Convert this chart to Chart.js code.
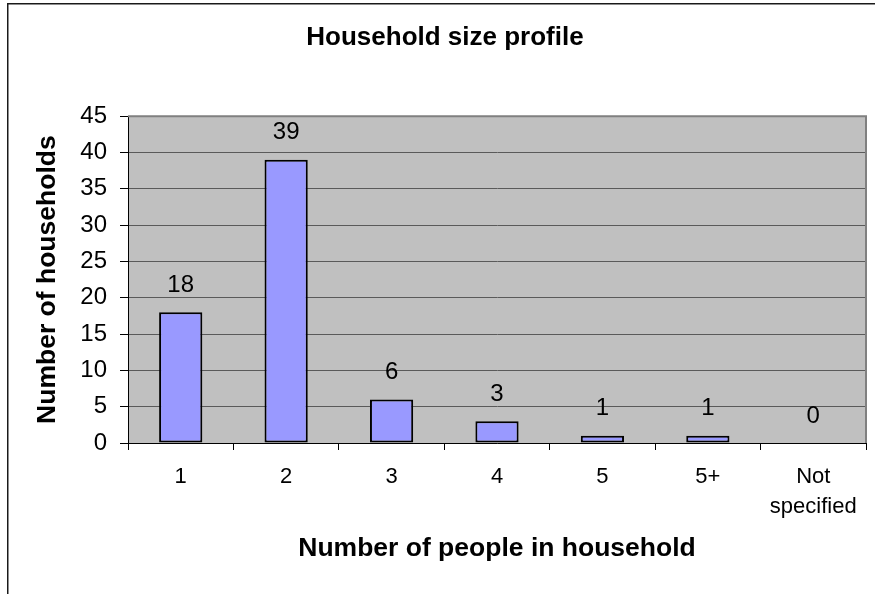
<!DOCTYPE html>
<html>
<head>
<meta charset="utf-8">
<script src="https://cdn.jsdelivr.net/npm/chart.js@4.4.1/dist/chart.umd.min.js"></script>
<style>
  html, body { margin: 0; padding: 0; background: #fff; }
  #wrap { width: 875px; height: 594px; position: relative; }
</style>
</head>
<body>
<div id="wrap"><canvas id="chart"></canvas></div>
<script>
const categories = ['1', '2', '3', '4', '5', '5+', ['Not', 'specified']];
const households = [18, 39, 6, 3, 1, 1, 0];
const yTickMax = 45;
const yTickStep = 5;

const FONT = "'Liberation Sans', Arial, sans-serif";

// grey plot area, plot frame and the outer chart border
const framePlugin = {
  id: 'excelFrame',
  beforeDraw(chart) {
    const { ctx, chartArea: a } = chart;
    ctx.save();
    ctx.fillStyle = '#c0c0c0';
    ctx.fillRect(a.left, a.top, a.right - a.left, a.bottom - a.top);
    ctx.restore();
  },
  afterDraw(chart) {
    const { ctx, chartArea: a } = chart;
    ctx.save();
    ctx.strokeStyle = '#808080';
    ctx.lineWidth = 2;
    ctx.beginPath();
    ctx.moveTo(a.left, a.top);
    ctx.lineTo(a.right, a.top);
    ctx.lineTo(a.right, a.bottom);
    ctx.stroke();
    ctx.strokeStyle = '#1a1a1a';
    ctx.lineWidth = 1.5;
    ctx.strokeRect(7.75, 3.75, 1000, 1000);
    ctx.restore();
  },
};

// value above each bar
const valueLabels = {
  id: 'valueLabels',
  afterDatasetsDraw(chart) {
    const { ctx } = chart;
    const meta = chart.getDatasetMeta(0);
    ctx.save();
    ctx.fillStyle = '#000';
    ctx.font = `24px ${FONT}`;
    ctx.textAlign = 'center';
    ctx.textBaseline = 'middle';
    meta.data.forEach((bar, i) => {
      ctx.fillText(String(households[i]), bar.x, bar.y - 27);
    });
    ctx.restore();
  },
};

new Chart(document.getElementById('chart'), {
  type: 'bar',
  data: {
    labels: categories,
    datasets: [{
      data: households,
      backgroundColor: '#9999ff',
      borderColor: '#000',
      borderWidth: 2,
      borderSkipped: false,
      barPercentage: 0.41,
      categoryPercentage: 1,
    }],
  },
  options: {
    responsive: true,
    maintainAspectRatio: false,
    animation: false,
    layout: { padding: { left: 24, right: 9, top: 0, bottom: 0 } },
    plugins: {
      legend: { display: false },
      tooltip: { enabled: false },
      title: {
        display: true,
        text: 'Household size profile',
        color: '#000',
        font: { family: FONT, size: 26, weight: 'bold', lineHeight: 1.2 },
        padding: { top: 22, bottom: 63 },
      },
    },
    scales: {
      x: {
        grid: { offset: true, drawOnChartArea: false, drawTicks: true, tickLength: 7, tickColor: '#000' },
        border: { display: true, color: '#000', width: 1 },
        ticks: { color: '#000', font: { family: FONT, size: 22, lineHeight: 1.35 }, padding: 12, maxRotation: 0, autoSkip: false },
        title: {
          display: true,
          text: 'Number of people in household',
          color: '#000',
          font: { family: FONT, size: 26.5, weight: 'bold', lineHeight: 1.2 },
          padding: { top: 0, bottom: 29 },
        },
        afterFit(scale) { scale.height = 151; },
      },
      y: {
        min: 0,
        max: yTickMax,
        ticks: { stepSize: yTickStep, color: '#000', font: { family: FONT, size: 24 }, padding: 13 },
        grid: { color: '#5a5a5a', lineWidth: 1, tickLength: 8, tickColor: '#000' },
        border: { display: true, color: '#000', width: 1 },
        title: {
          display: true,
          text: 'Number of households',
          color: '#000',
          font: { family: FONT, size: 26.5, weight: 'bold', lineHeight: 1.2 },
          padding: { top: 8, bottom: 0 },
        },
        afterFit(scale) { scale.width = 104; },
      },
    },
  },
  plugins: [framePlugin, valueLabels],
});
</script>
</body>
</html>
